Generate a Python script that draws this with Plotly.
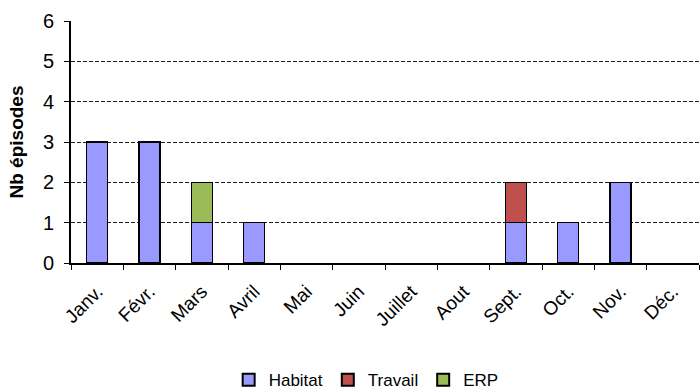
import plotly.graph_objects as go

months = ["Janv.", "Févr.", "Mars", "Avril", "Mai", "Juin", "Juillet",
          "Aout", "Sept.", "Oct.", "Nov.", "Déc."]
habitat = [3, 3, 1, 1, 0, 0, 0, 0, 1, 1, 2, 0]
travail = [0, 0, 0, 0, 0, 0, 0, 0, 1, 0, 0, 0]
erp = [0, 0, 1, 0, 0, 0, 0, 0, 0, 0, 0, 0]
y_ticks = [0, 1, 2, 3, 4, 5, 6]

series = [
    ("Habitat", habitat, "#9999FF"),
    ("Travail", travail, "#C0504D"),
    ("ERP", erp, "#9BBB59"),
]

font = "Liberation Sans, Arial, sans-serif"

fig = go.Figure()
for name, vals, color in series:
    # empty months get no segment (avoids a flat outlined sliver at zero)
    shown = [v if v else None for v in vals]
    fig.add_trace(go.Bar(
        x=months, y=shown, name=name,
        marker=dict(color=color, line=dict(color="black", width=1.5)),
        width=0.4,
    ))

fig.update_layout(
    barmode="stack",
    width=700, height=391,
    margin=dict(l=71, r=1, t=21, b=128, autoexpand=False),
    plot_bgcolor="white", paper_bgcolor="white",
    font=dict(family=font, color="black"),
    showlegend=True,
    legend=dict(
        orientation="h", x=0.47, xanchor="center", y=-0.41, yanchor="top",
        font=dict(size=17, family=font), traceorder="normal",
        itemwidth=30, itemsizing="constant",
    ),
    xaxis=dict(
        type="category", tickangle=-45, tickfont=dict(size=19, family=font),
        showline=True, linecolor="black", linewidth=2,
        ticks="outside", ticklen=5, tickcolor="black", tickwidth=1,
        tickson="boundaries", showgrid=False, automargin=False,
        ticklabelstandoff=8,
    ),
    yaxis=dict(
        range=[0, 6], tickvals=y_ticks, tickfont=dict(size=20, family=font),
        showline=True, linecolor="black", linewidth=2,
        ticks="outside", ticklen=5, tickcolor="black",
        ticklabelstandoff=6, automargin=False,
        showgrid=True, gridcolor="#222222", gridwidth=1, griddash="4px,2px",
        zeroline=False,
        title=dict(text="<b>Nb épisodes</b>", font=dict(size=19, family=font), standoff=14),
    ),
)

fig.write_html("out.html")
